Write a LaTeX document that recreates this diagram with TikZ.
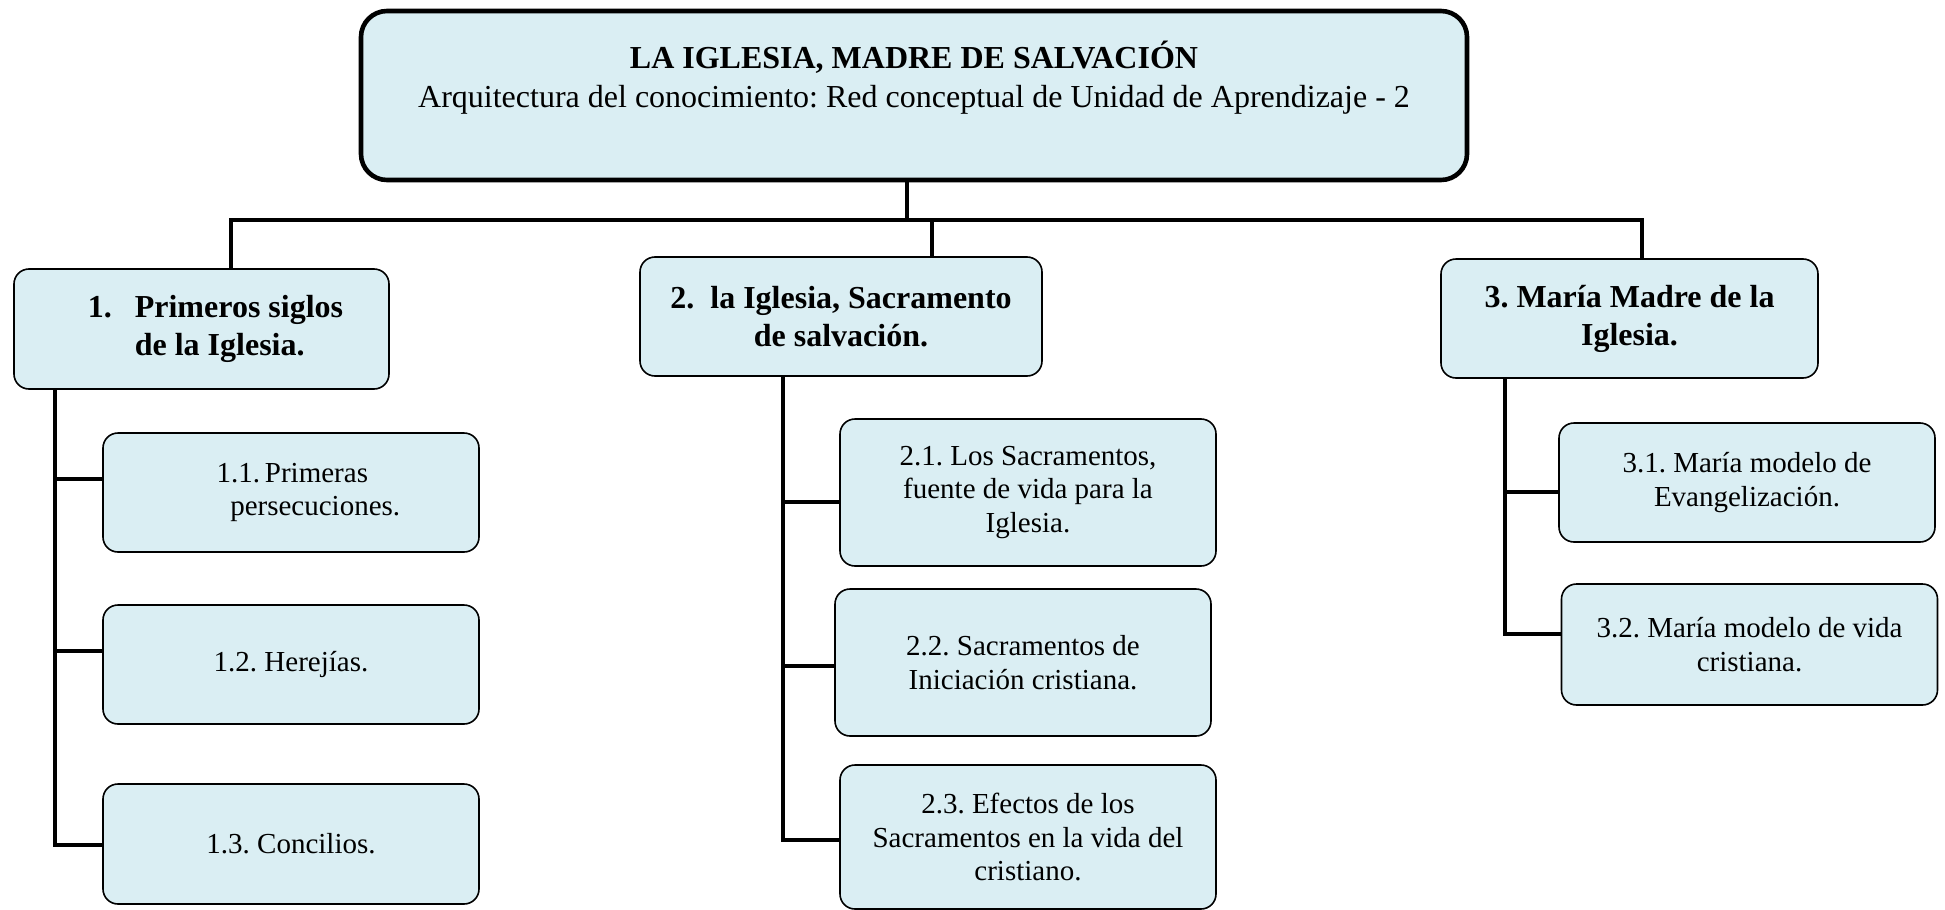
\documentclass[tikz,border=0pt]{standalone}
\usepackage{fontspec}
\setmainfont{Liberation Serif}
\definecolor{boxfill}{HTML}{DAEEF3}
\frenchspacing
\begin{document}
\frenchspacing
\begin{tikzpicture}[x=0.5pt,y=-0.5pt,
  box/.style={draw=black, line width=0.8pt, fill=boxfill, rounded corners=7.5pt, align=center, inner sep=0pt},
  sub/.style={box, minimum width=188pt, minimum height=59.5pt, font=\fontsize{14.5}{16.8}\selectfont},
  head/.style={box, minimum width=188pt, minimum height=59.5pt, font=\fontsize{16}{19}\selectfont\bfseries},
  topbox/.style={draw=black, line width=2.3pt, fill=boxfill, rounded corners=13pt, minimum width=553pt, minimum height=84.5pt, inner sep=0pt},
  toptext/.style={align=center, inner sep=0pt, font=\fontsize{16}{19.5}\selectfont},
  conn/.style={line width=1.9pt}]
\useasboundingbox (0,0) rectangle (1945,910);

% top
\node[topbox] (top) at (914,95.5) {};
\node[toptext] (toptitle) at (914,77.5) {\textbf{LA IGLESIA, MADRE DE SALVACIÓN}\\Arquitectura del conocimiento: Red conceptual de Unidad de Aprendizaje - 2};

% level 1
\node[head, minimum width=187.5pt, minimum height=60pt] (b1) at (201.5,329)
  {\hspace*{14pt}\begin{tabular}{@{}l@{\hspace{11.5pt}}l@{}}1. & Primeros siglos\\ & de la Iglesia.\end{tabular}};
\node[head, minimum width=201pt] (b2) at (841,316.5) {2.\ \ la Iglesia, Sacramento\\de salvación.};
\node[head, minimum width=188.5pt] (b3) at (1629.5,318.5) {3. María Madre de la\\Iglesia.};

% level 2
\node[sub, align=left] (b11) at (291,492.5) {\hspace*{17.4pt}1.1.\,Primeras\\\hspace*{24.2pt}persecuciones.};
\node[sub] (b12) at (291,664.5) {1.2. Herejías.};
\node[sub, minimum height=60pt] (b13) at (291,844) {1.3. Concilios.};

\node[sub, minimum height=73.5pt] (b21) at (1028,492.5) {2.1. Los Sacramentos,\\fuente de vida para la\\Iglesia.};
\node[sub, minimum height=73.5pt] (b22) at (1023,662.5) {2.2. Sacramentos de\\Iniciación cristiana.};
\node[sub, minimum height=72pt] (b23) at (1028,837) {2.3. Efectos de los\\Sacramentos en la vida del\\cristiano.};

\node[sub] (b31) at (1747,482.5) {3.1. María modelo de\\Evangelización.};
\node[sub, minimum height=60.5pt] (b32) at (1749.5,644.5) {3.2. María modelo de vida\\cristiana.};

% trunk
\coordinate (stem) at (907,220);
\coordinate (d1) at (231,220);
\coordinate (d2) at (932,220);
\coordinate (d3) at (1642,220);
\draw[conn] (stem |- top.south) -- (stem);
\draw[conn] (d1 |- b1.north) -- (d1) -- (d3) -- (d3 |- b3.north);
\draw[conn] (d2) -- (d2 |- b2.north);

% spines
\coordinate (s1) at (55,0);
\coordinate (s2) at (783,0);
\coordinate (s3) at (1505,0);
\path ([yshift=6.75pt]b11.west) coordinate (c11)
      ([yshift=6.75pt]b12.west) coordinate (c12)
      ([yshift=-0.5pt]b13.west) coordinate (c13)
      ([yshift=-4.75pt]b21.west) coordinate (c21)
      ([yshift=-1.75pt]b22.west) coordinate (c22)
      ([yshift=-1.5pt]b23.west) coordinate (c23)
      ([yshift=-4.75pt]b31.west) coordinate (c31)
      ([yshift=5.25pt]b32.west) coordinate (c32);

\draw[conn] (s1 |- b1.south) -- (s1 |- c13) -- (c13);
\draw[conn] (s1 |- c11) -- (c11);
\draw[conn] (s1 |- c12) -- (c12);

\draw[conn] (s2 |- b2.south) -- (s2 |- c23) -- (c23);
\draw[conn] (s2 |- c21) -- (c21);
\draw[conn] (s2 |- c22) -- (c22);

\draw[conn] (s3 |- b3.south) -- (s3 |- c32) -- (c32);
\draw[conn] (s3 |- c31) -- (c31);
\end{tikzpicture}
\end{document}
